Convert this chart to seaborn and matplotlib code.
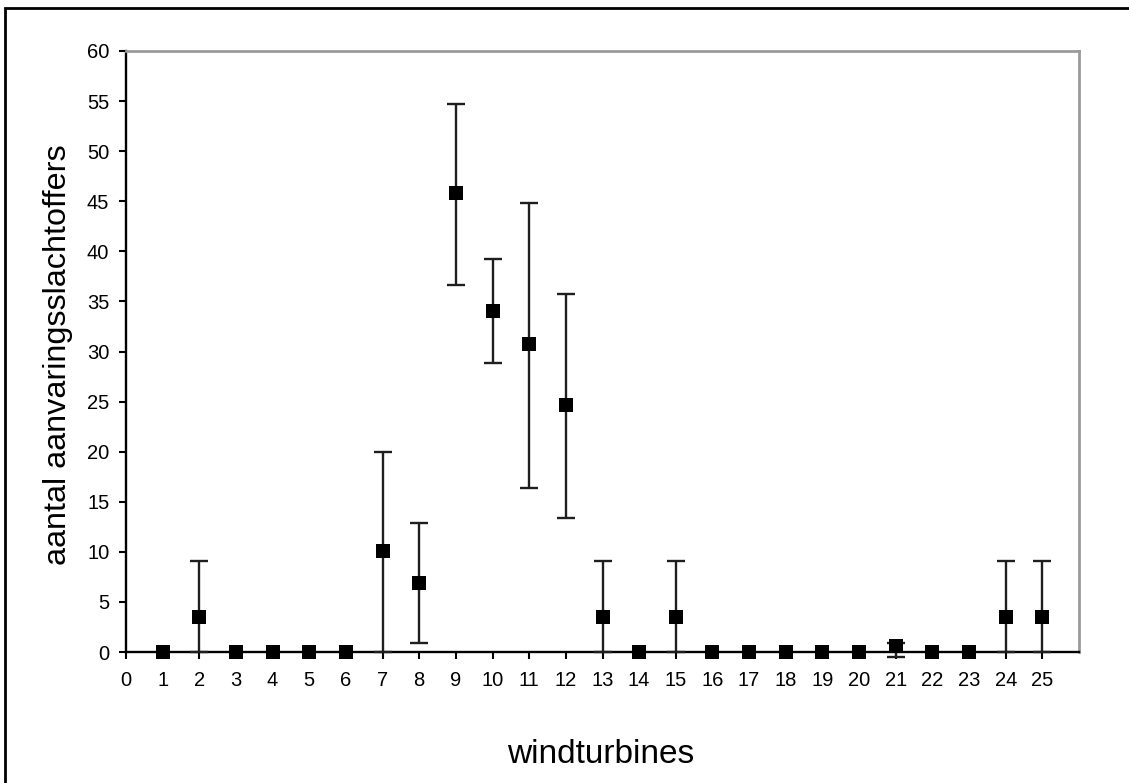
import matplotlib
matplotlib.use("Agg")
import matplotlib.pyplot as plt
import seaborn as sns
import pandas as pd
import numpy as np
from matplotlib.patches import Rectangle

# ---- data ----
turbines = list(range(1, 26))
victims = [0, 3.5, 0, 0, 0, 0, 10.1, 6.9, 45.8, 34.0, 30.7, 24.7, 3.5, 0, 3.5,
           0, 0, 0, 0, 0, 0.55, 0, 0, 3.5, 3.5]
err_lower = [0, 3.5, 0, 0, 0, 0, 10.1, 6.0, 9.2, 5.1, 14.3, 11.3, 3.5, 0, 3.5,
             0, 0, 0, 0, 0, 1.0, 0, 0, 3.5, 3.5]
err_upper = [0, 5.6, 0, 0, 0, 0, 9.9, 6.0, 8.9, 5.2, 14.1, 11.0, 5.6, 0, 5.6,
             0, 0, 0, 0, 0, 0.3, 0, 0, 5.6, 5.6]
xtick_labels = [str(i) for i in range(0, 26)]
ytick_values = list(range(0, 61, 5))
x_label = "windturbines"
y_label = "aantal aanvaringsslachtoffers"

df = pd.DataFrame({"turbine": turbines, "victims": victims})

sns.set_theme(style="white")
plt.rcParams["font.family"] = ["Liberation Sans", "DejaVu Sans"]

W, H = 1129, 783
fig = plt.figure(figsize=(W / 100, H / 100), dpi=100)
fig.patch.set_facecolor("white")
ax = fig.add_axes([126 / W, 1 - 652 / H, (1079 - 126) / W, (652 - 51) / H])

# error bars
has_err = [i for i in range(len(turbines)) if err_lower[i] > 0 or err_upper[i] > 0]
ax.errorbar([turbines[i] for i in has_err], [victims[i] for i in has_err],
            yerr=[[err_lower[i] for i in has_err], [err_upper[i] for i in has_err]],
            fmt="none", ecolor="#1e1e1e", elinewidth=1.7, capsize=6.5, capthick=1.7,
            clip_on=False, zorder=3)

sns.scatterplot(data=df, x="turbine", y="victims", marker="s", s=110,
                color="black", edgecolor="black", linewidth=0, ax=ax,
                zorder=4, clip_on=False, legend=False)

ax.set_xlim(0, 26)
ax.set_ylim(0, 60)
ax.set_xticks(range(0, 26))
ax.set_xticklabels(xtick_labels)
ax.set_yticks(ytick_values)
ax.set_yticklabels([str(v) for v in ytick_values])
ax.set_xlabel("")
ax.set_ylabel("")

for s in ["left", "bottom"]:
    ax.spines[s].set_color("black")
    ax.spines[s].set_linewidth(1.7)
    ax.spines[s].set_visible(True)
for s in ["top", "right"]:
    ax.spines[s].set_color("#9a9a9a")
    ax.spines[s].set_linewidth(2)
    ax.spines[s].set_visible(True)

ax.tick_params(axis="both", which="both", direction="out", length=5, width=1.5,
               color="black", labelsize=14.5, labelcolor="black")
ax.tick_params(axis="x", pad=9, bottom=True)
ax.tick_params(axis="y", pad=7, left=True)
ax.grid(False)

fig.text(600.5 / W, 1 - 763 / H, x_label, ha="center", va="baseline",
         fontsize=24, color="black")
fig.text(58 / W, 1 - 355 / H, y_label, ha="center", va="center",
         rotation=90, fontsize=23.3, color="black")

# outer chart border
fig.patches.append(Rectangle((5 / W, -0.05), 1.2, 1 - 8 / H + 0.05,
                             transform=fig.transFigure, fill=False,
                             edgecolor="black", linewidth=2, figure=fig))

fig.savefig("out.png", dpi=100, facecolor="white")
